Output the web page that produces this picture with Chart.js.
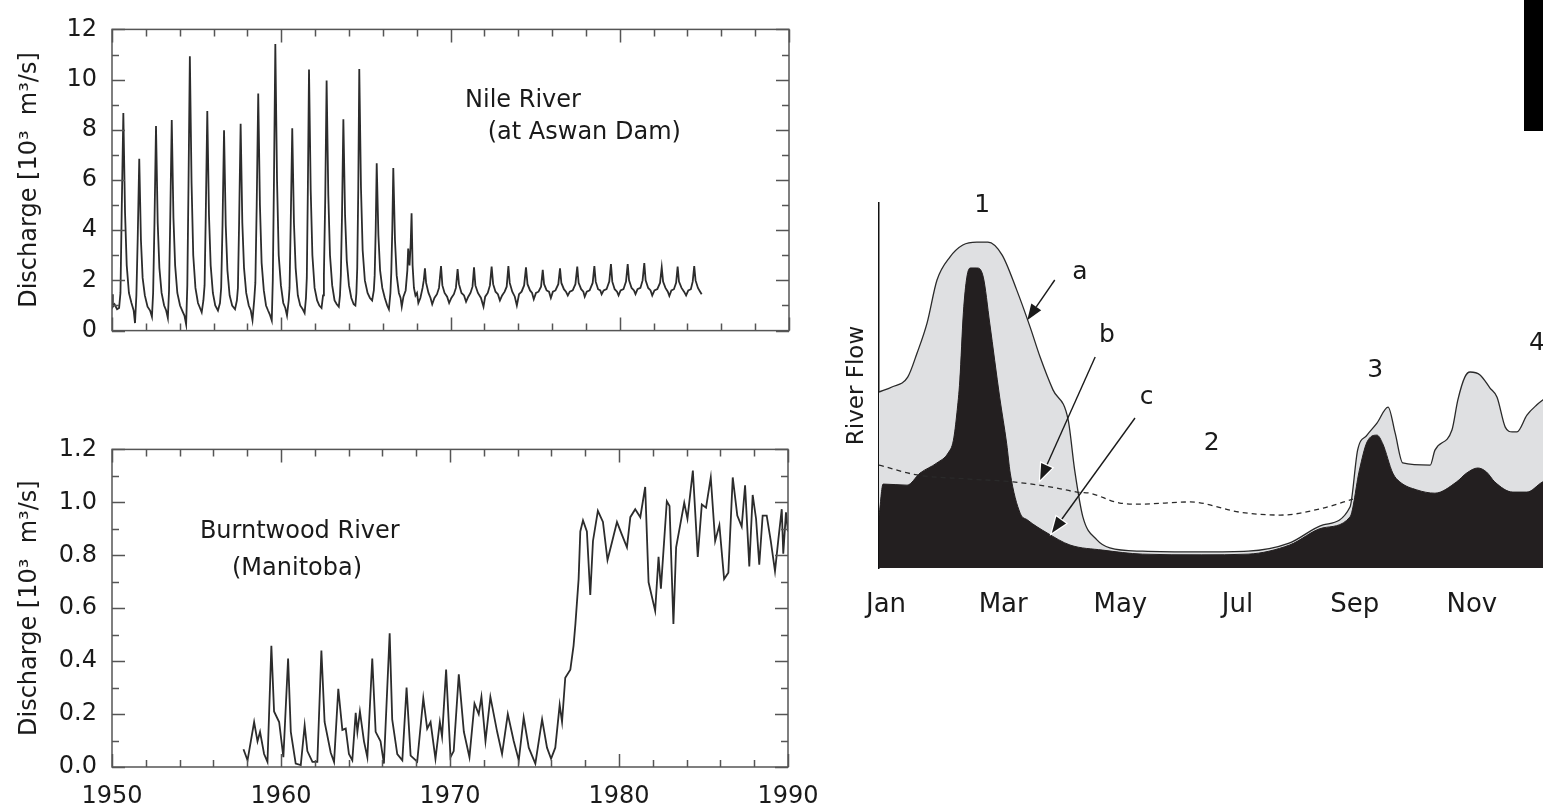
<!DOCTYPE html>
<html><head><meta charset="utf-8">
<script src="https://cdn.jsdelivr.net/npm/chart.js@4.4.1/dist/chart.umd.min.js"></script>
<style>
html,body{margin:0;padding:0;background:#fff;overflow:hidden;}
#wrap{position:relative;width:1543px;height:809px;overflow:hidden;background:#fff;}
canvas{position:absolute;}
#c1{left:0;top:0;} #c2{left:0;top:420px;} #c3{left:830px;top:180px;}
#blk{position:absolute;left:1524px;top:0;width:19px;height:131px;background:#000;}
</style></head><body>
<div id="wrap">
<canvas id="c1" width="800" height="360"></canvas>
<canvas id="c2" width="840" height="389"></canvas>
<canvas id="c3" width="760" height="450"></canvas>
<div id="blk"></div>
</div>
<script>
// ---------- DATA ----------
const yearTickStep = 2;
// Nile River at Aswan Dam: [decimal year, discharge 10^3 m3/s]
const nileSeries = [
[1950.00,1.45],[1950.05,0.95],[1950.15,1.05],[1950.30,0.85],[1950.42,0.90],[1950.50,1.50],[1950.57,4.60],[1950.67,8.67],[1950.77,4.70],[1950.87,2.60],[1951.00,1.50],[1951.15,1.10],[1951.28,0.80],[1951.36,0.30],
[1951.44,1.40],[1951.52,3.70],[1951.61,6.85],[1951.71,3.60],[1951.81,2.10],[1951.94,1.40],[1952.10,0.95],[1952.25,0.80],[1952.36,0.55],
[1952.43,1.50],[1952.51,4.30],[1952.60,8.15],[1952.70,4.30],[1952.80,2.50],[1952.93,1.50],[1953.08,1.00],[1953.20,0.80],[1953.30,0.50],
[1953.37,1.60],[1953.44,4.40],[1953.53,8.39],[1953.63,4.50],[1953.73,2.60],[1953.86,1.50],[1954.02,1.00],[1954.18,0.75],[1954.28,0.60],[1954.38,0.25],
[1954.45,1.80],[1954.52,5.80],[1954.60,10.93],[1954.70,5.90],[1954.80,3.00],[1954.93,1.70],[1955.08,1.10],[1955.20,0.90],[1955.30,0.73],[1955.40,1.20],
[1955.47,1.80],[1955.54,4.60],[1955.63,8.75],[1955.73,4.60],[1955.83,2.60],[1955.96,1.50],[1956.10,1.00],[1956.26,0.80],[1956.38,1.10],
[1956.45,1.70],[1956.53,4.20],[1956.62,7.98],[1956.72,4.20],[1956.82,2.40],[1956.95,1.40],[1957.10,1.00],[1957.27,0.85],[1957.38,1.20],
[1957.44,1.70],[1957.51,4.30],[1957.60,8.24],[1957.70,4.30],[1957.80,2.50],[1957.93,1.50],[1958.08,1.00],[1958.20,0.80],[1958.30,0.42],[1958.40,1.20],
[1958.47,1.90],[1958.55,5.00],[1958.64,9.45],[1958.74,5.00],[1958.84,2.70],[1958.97,1.60],[1959.10,1.00],[1959.22,0.80],[1959.32,0.65],[1959.44,0.40],
[1959.50,2.00],[1959.57,6.00],[1959.65,11.42],[1959.75,6.00],[1959.85,3.00],[1959.98,1.80],[1960.12,1.10],[1960.24,0.90],[1960.34,0.60],[1960.44,1.20],
[1960.49,1.70],[1960.56,4.30],[1960.65,8.06],[1960.75,4.30],[1960.85,2.50],[1960.98,1.40],[1961.12,1.00],[1961.27,0.85],[1961.38,0.70],[1961.46,1.30],
[1961.51,2.10],[1961.57,5.50],[1961.64,10.40],[1961.74,5.60],[1961.84,3.00],[1961.97,1.70],[1962.12,1.20],[1962.25,1.00],[1962.38,0.90],[1962.47,1.40],
[1962.52,2.20],[1962.60,5.30],[1962.68,9.96],[1962.78,5.40],[1962.88,3.00],[1963.01,1.80],[1963.15,1.20],[1963.28,1.05],[1963.40,0.95],[1963.47,1.40],
[1963.52,2.20],[1963.59,4.60],[1963.67,8.42],[1963.77,4.60],[1963.87,2.80],[1964.00,1.80],[1964.14,1.30],[1964.28,1.05],[1964.38,1.00],[1964.44,1.50],
[1964.49,2.50],[1964.55,5.60],[1964.61,10.42],[1964.71,5.70],[1964.81,3.20],[1964.94,2.00],[1965.10,1.50],[1965.24,1.30],[1965.37,1.20],[1965.47,1.60],
[1965.52,2.20],[1965.58,4.00],[1965.64,6.67],[1965.74,3.80],[1965.84,2.40],[1965.97,1.70],[1966.12,1.30],[1966.26,1.00],[1966.36,0.85],[1966.45,1.50],
[1966.50,2.30],[1966.56,4.00],[1966.62,6.48],[1966.72,3.60],[1966.82,2.20],[1966.95,1.50],[1967.05,1.30],[1967.12,0.95],[1967.22,1.35],[1967.35,1.60],
[1967.45,2.40],[1967.50,3.27],[1967.58,2.60],[1967.65,3.50],[1967.70,4.67],[1967.76,2.60],[1967.84,1.70],[1967.93,1.40],[1968.02,1.50],[1968.10,1.10],[1968.22,1.30],
[1968.35,1.70],[1968.42,2.00],[1968.49,2.48],[1968.56,1.90],[1968.70,1.50],[1968.82,1.30],[1968.92,1.05],
[1969.05,1.30],[1969.20,1.45],[1969.32,1.70],[1969.44,2.57],[1969.52,1.80],[1969.65,1.50],[1969.80,1.35],[1969.92,1.10],
[1970.05,1.30],[1970.20,1.45],[1970.32,1.70],[1970.42,2.45],[1970.50,1.85],[1970.65,1.50],[1970.80,1.40],[1970.92,1.15],
[1971.05,1.35],[1971.18,1.50],[1971.30,1.75],[1971.39,2.52],[1971.47,1.80],[1971.62,1.50],[1971.80,1.30],[1971.95,0.95],
[1972.05,1.35],[1972.20,1.50],[1972.33,1.80],[1972.43,2.55],[1972.52,1.85],[1972.66,1.55],[1972.80,1.45],[1972.92,1.20],
[1973.05,1.40],[1973.20,1.55],[1973.32,1.75],[1973.42,2.57],[1973.50,1.90],[1973.65,1.55],[1973.80,1.35],[1973.92,1.00],
[1974.05,1.45],[1974.20,1.55],[1974.35,1.80],[1974.46,2.52],[1974.55,1.85],[1974.70,1.60],[1974.82,1.50],[1974.92,1.25],
[1975.05,1.50],[1975.20,1.55],[1975.35,1.75],[1975.45,2.42],[1975.53,1.85],[1975.68,1.60],[1975.82,1.55],[1975.93,1.30],
[1976.05,1.55],[1976.20,1.60],[1976.37,1.85],[1976.47,2.48],[1976.55,1.90],[1976.70,1.65],[1976.82,1.55],[1976.93,1.40],
[1977.05,1.55],[1977.22,1.60],[1977.38,1.85],[1977.49,2.55],[1977.57,1.90],[1977.72,1.65],[1977.85,1.55],[1977.93,1.35],
[1978.05,1.55],[1978.22,1.60],[1978.40,1.90],[1978.50,2.57],[1978.58,1.95],[1978.72,1.65],[1978.85,1.60],[1978.93,1.45],
[1979.05,1.60],[1979.22,1.65],[1979.38,1.95],[1979.48,2.65],[1979.56,1.95],[1979.70,1.65],[1979.84,1.55],[1979.93,1.40],
[1980.05,1.60],[1980.22,1.65],[1980.37,1.95],[1980.47,2.65],[1980.55,2.00],[1980.70,1.70],[1980.84,1.60],[1980.93,1.45],
[1981.05,1.65],[1981.22,1.70],[1981.35,2.00],[1981.45,2.69],[1981.53,2.00],[1981.68,1.70],[1981.82,1.60],[1981.92,1.40],
[1982.05,1.60],[1982.22,1.65],[1982.38,1.90],[1982.48,2.52],[1982.56,1.95],[1982.70,1.70],[1982.84,1.55],[1982.93,1.38],
[1983.05,1.60],[1983.20,1.65],[1983.33,1.90],[1983.42,2.55],[1983.50,1.95],[1983.65,1.70],[1983.80,1.55],[1983.92,1.40],
[1984.05,1.60],[1984.20,1.65],[1984.31,1.95],[1984.40,2.57],[1984.48,2.00],[1984.62,1.70],[1984.75,1.55],[1984.84,1.45]];

// Burntwood River (Manitoba): [decimal year, discharge 10^3 m3/s]
const burntSeries = [
[1957.78,0.067],[1958.02,0.025],[1958.41,0.170],[1958.61,0.097],[1958.76,0.133],[1959.00,0.049],[1959.20,0.019],[1959.43,0.458],[1959.59,0.210],[1959.89,0.170],
[1960.14,0.037],[1960.42,0.410],[1960.58,0.133],[1960.87,0.013],[1961.17,0.007],[1961.40,0.157],[1961.56,0.060],[1961.86,0.019],[1962.15,0.019],[1962.39,0.440],
[1962.58,0.170],[1962.94,0.055],[1963.14,0.019],[1963.39,0.295],[1963.63,0.140],[1963.83,0.145],[1964.02,0.049],[1964.22,0.025],[1964.42,0.205],[1964.52,0.133],
[1964.67,0.210],[1964.91,0.097],[1965.11,0.037],[1965.40,0.410],[1965.60,0.133],[1965.89,0.097],[1966.09,0.013],[1966.43,0.505],[1966.58,0.180],[1966.88,0.049],
[1967.18,0.025],[1967.43,0.300],[1967.67,0.043],[1968.06,0.020],[1968.42,0.260],[1968.65,0.145],[1968.85,0.170],[1969.14,0.031],[1969.40,0.170],[1969.53,0.115],
[1969.77,0.368],[1970.03,0.037],[1970.22,0.060],[1970.52,0.350],[1970.82,0.133],[1971.15,0.037],[1971.45,0.240],[1971.70,0.200],[1971.86,0.265],[1972.10,0.098],
[1972.39,0.265],[1972.79,0.133],[1973.08,0.049],[1973.42,0.200],[1973.77,0.098],[1974.07,0.025],[1974.36,0.187],[1974.66,0.073],[1975.05,0.013],[1975.45,0.180],
[1975.74,0.073],[1975.98,0.031],[1976.23,0.073],[1976.49,0.235],[1976.63,0.170],[1976.82,0.337],[1977.12,0.368],[1977.31,0.458],[1977.42,0.540],[1977.61,0.710],
[1977.71,0.890],[1977.87,0.932],[1978.10,0.890],[1978.30,0.650],[1978.46,0.854],[1978.75,0.968],[1979.05,0.926],[1979.32,0.782],[1979.58,0.848],[1979.88,0.926],
[1980.17,0.878],[1980.47,0.830],[1980.67,0.944],[1980.96,0.974],[1981.26,0.944],[1981.55,1.058],[1981.75,0.698],[1982.14,0.590],[1982.34,0.794],[1982.48,0.674],
[1982.83,1.004],[1982.99,0.986],[1983.22,0.540],[1983.38,0.830],[1983.62,0.914],[1983.86,0.998],[1984.05,0.938],[1984.37,1.120],[1984.66,0.794],[1984.90,0.992],
[1985.15,0.980],[1985.43,1.094],[1985.69,0.854],[1985.94,0.914],[1986.22,0.710],[1986.47,0.734],[1986.73,1.094],[1987.00,0.950],[1987.26,0.908],[1987.46,1.064],
[1987.71,0.758],[1987.91,1.028],[1988.11,0.938],[1988.30,0.764],[1988.50,0.950],[1988.74,0.950],[1988.98,0.854],[1989.23,0.740],[1989.43,0.860],[1989.63,0.974],
[1989.72,0.806],[1989.88,0.962],[1990.00,0.890]];

// River flow schematic (months since Jan 1, relative flow)
const monthLabels = ['Jan','Mar','May','Jul','Sep','Nov'];
const naturalMonth = [0,0.22,0.49,0.65,0.82,0.99,1.21,1.43,1.67,1.86,2.10,2.35,2.58,2.75,2.97,3.23,3.34,3.48,3.72,3.94,4.5,5.5,6.3,7.0,7.58,8.04,8.17,8.33,8.5,8.69,8.81,8.94,9.41,9.49,9.78,9.88,10.0,10.09,10.26,10.43,10.55,10.69,10.81,10.89,11.06,11.23,11.33,11.6,12.0];
const naturalFlow  = [48.2,49.6,52.3,58.9,67.1,78.9,85.2,88.5,89.3,89.3,85.8,76.2,66.0,57.8,48.8,40.5,26.8,14.0,7.7,5.5,4.6,4.4,4.6,6.8,11.8,16.7,32.3,36.4,39.7,44.1,37.0,28.8,28.2,32.3,37.8,46.0,52.3,53.7,52.9,49.3,46.8,38.6,37.3,37.3,41.9,44.7,46.0,49.0,50.0];
const regulatedMonth = [0,0.07,0.48,0.70,0.99,1.18,1.27,1.33,1.38,1.44,1.50,1.56,1.67,1.78,1.89,2.06,2.18,2.24,2.41,2.53,2.87,3.26,3.82,4.5,5.5,6.3,7.01,7.58,8.04,8.2,8.33,8.5,8.6,8.77,8.89,9.18,9.49,9.86,10.03,10.22,10.37,10.51,10.82,11.06,11.33,11.6,12.0];
const regulatedFlow  = [14,23,22.7,26,28.8,31.5,35,42.5,51.5,69.9,79.7,82.2,82.2,79.7,67.1,46.8,34,26,15,13.2,9.6,6.3,4.9,3.8,3.6,3.8,6.3,11,14,26.8,34.5,36.4,34,26,23.6,21.4,20.5,23.6,26,27.4,26.3,23.6,20.8,20.8,23.6,25,25];
const meanMonth = [0,0.65,1.5,2.29,3.0,3.38,3.6,4.11,4.46,5.31,6.16,6.85,7.58,8.09];
const meanFlow  = [28.2,25.5,24.4,23.6,22.0,20.8,20.5,17.8,17.5,18.1,15.3,14.5,16.4,18.9];

// ---------- HELPERS ----------
const FONT = 'DejaVu Sans';
const INK = '#1a1a1a';
const pts = (xs, ys) => xs.map((x, i) => ({x, y: ys[i]}));
const pairPts = arr => arr.map(p => ({x: p[0], y: p[1]}));

function frameTicks(isMajorX, isMajorY) {
  return {
    id: 'frameTicks',
    afterDraw(chart) {
      const {ctx, chartArea: a, scales: {x, y}} = chart;
      ctx.save();
      ctx.strokeStyle = '#555';
      ctx.lineWidth = 1.5;
      ctx.strokeRect(a.left, a.top, a.right - a.left, a.bottom - a.top);
      ctx.beginPath();
      x.ticks.forEach(t => {
        const p = Math.round(x.getPixelForValue(t.value)) + 0.5;
        const L = isMajorX(t.value) ? 13 : 7;
        ctx.moveTo(p, a.bottom); ctx.lineTo(p, a.bottom - L);
        ctx.moveTo(p, a.top); ctx.lineTo(p, a.top + L);
      });
      y.ticks.forEach(t => {
        const p = Math.round(y.getPixelForValue(t.value)) + 0.5;
        const L = isMajorY(t.value) ? 13 : 7;
        ctx.moveTo(a.left, p); ctx.lineTo(a.left + L, p);
        ctx.moveTo(a.right, p); ctx.lineTo(a.right - L, p);
      });
      ctx.stroke();
      ctx.restore();
    }
  };
}

function notes(items, arrows, size) {
  return {
    id: 'notes',
    afterDatasetsDraw(chart) {
      const {ctx, scales: {x, y}} = chart;
      ctx.save();
      (arrows || []).forEach(ar => {
        const x1 = x.getPixelForValue(ar.from[0]), y1 = y.getPixelForValue(ar.from[1]);
        const x2 = x.getPixelForValue(ar.to[0]), y2 = y.getPixelForValue(ar.to[1]);
        const ang = Math.atan2(y2 - y1, x2 - x1);
        const len = 16, w = 6;
        const bx = x2 - len * Math.cos(ang), by = y2 - len * Math.sin(ang);
        ctx.strokeStyle = '#1a1a1a'; ctx.lineWidth = 1.4;
        ctx.beginPath(); ctx.moveTo(x1, y1); ctx.lineTo(bx, by); ctx.stroke();
        ctx.beginPath();
        ctx.moveTo(x2, y2);
        ctx.lineTo(bx + w * Math.sin(ang), by - w * Math.cos(ang));
        ctx.lineTo(bx - w * Math.sin(ang), by + w * Math.cos(ang));
        ctx.closePath();
        if (ar.halo) { ctx.strokeStyle = '#fff'; ctx.lineWidth = 2.5; ctx.stroke(); }
        ctx.fillStyle = '#1a1a1a'; ctx.fill();
      });
      ctx.font = size + 'px "' + FONT + '"';
      ctx.fillStyle = INK;
      items.forEach(it => {
        ctx.textAlign = it.align || 'left';
        ctx.textBaseline = it.base || 'alphabetic';
        ctx.fillText(it.text, x.getPixelForValue(it.x), y.getPixelForValue(it.y));
      });
      ctx.restore();
    }
  };
}

const common = {
  responsive: false, animation: false, devicePixelRatio: 1, events: [],
  plugins: {legend: {display: false}, tooltip: {enabled: false}}
};
const tickFont = {family: FONT, size: 24};

function leftChart(canvasId, series, yMax, yStep, yFmt, isMajorY, showX, pad, xH, annot) {
  return new Chart(document.getElementById(canvasId), {
    type: 'line',
    data: {datasets: [{data: pairPts(series), borderColor: '#2c2c2c', borderWidth: 1.8, pointRadius: 0, tension: 0, fill: false}]},
    options: Object.assign({}, common, {
      layout: {padding: pad},
      scales: {
        x: {type: 'linear', min: 1950, max: 1990,
            ticks: {stepSize: yearTickStep, autoSkip: false, maxRotation: 0, display: showX, padding: 15,
                    font: tickFont, color: INK, callback: v => (v % 10 === 0 ? String(v) : '')},
            grid: {display: false, drawTicks: false}, border: {display: false},
            afterFit: s => { s.height = xH; }},
        y: {type: 'linear', min: 0, max: yMax,
            ticks: {stepSize: yStep, autoSkip: false, padding: 15, font: tickFont, color: INK, callback: yFmt},
            grid: {display: false, drawTicks: false}, border: {display: false},
            title: {display: true, text: 'Discharge [10³  m³/s]', font: {family: FONT, size: 24}, color: INK, padding: {top: 15, bottom: 0}},
            afterFit: s => { s.width = 112; }}
      }
    }),
    plugins: [frameTicks(v => Math.round(v) % 10 === 0, isMajorY), notes(annot, null, 24)]
  });
}

// Nile
leftChart('c1', nileSeries, 12, 1,
  v => (Math.round(v) % 2 === 0 ? String(Math.round(v)) : ''),
  v => Math.round(v) % 2 === 0, false, {left: 0, top: 20, right: 11, bottom: 0}, 10,
  [{text: 'Nile River', x: 1970.86, y: 8.91}, {text: '(at Aswan Dam)', x: 1972.2, y: 7.64}]);

// Burntwood
leftChart('c2', burntSeries, 1.2, 0.1,
  v => { const k = Math.round(v * 10); return k % 2 === 0 ? (k / 10).toFixed(1) : ''; },
  v => Math.round(v * 10) % 2 === 0, true, {left: 0, top: 14, right: 52, bottom: 0}, 42,
  [{text: 'Burntwood River', x: 1955.2, y: 0.865}, {text: '(Manitoba)', x: 1957.1, y: 0.724}]);

// River flow schematic
new Chart(document.getElementById('c3'), {
  type: 'line',
  data: {datasets: [
    {data: pts(meanMonth, meanFlow), borderColor: '#2a2a2a', borderWidth: 1.3, borderDash: [5, 4], pointRadius: 0,
     cubicInterpolationMode: 'monotone', fill: false, order: 1},
    {data: pts(regulatedMonth, regulatedFlow), borderColor: '#231f20', backgroundColor: '#231f20', borderWidth: 1,
     pointRadius: 0, cubicInterpolationMode: 'monotone', fill: 'origin', order: 2},
    {data: pts(naturalMonth, naturalFlow), borderColor: '#2a2a2a', backgroundColor: '#dfe0e2', borderWidth: 1.3,
     pointRadius: 0, cubicInterpolationMode: 'monotone', fill: 'origin', order: 3}
  ]},
  options: Object.assign({}, common, {
    layout: {padding: {left: 0, top: 23, right: 8, bottom: 0}},
    scales: {
      x: {type: 'linear', min: 0, max: 12,
          afterBuildTicks: s => { s.ticks = monthLabels.map((_, i) => ({value: i * 2})); },
          ticks: {autoSkip: false, maxRotation: 0, padding: 22, labelOffset: 7, font: {family: FONT, size: 26}, color: INK,
                  callback: v => monthLabels[Math.round(v / 2)] || ''},
          grid: {display: false, drawTicks: false}, border: {display: false},
          afterFit: s => { s.height = 62; }},
      y: {type: 'linear', min: 0, max: 100,
          ticks: {display: false},
          grid: {display: false, drawTicks: false}, border: {display: true, color: '#111', width: 1.5},
          title: {display: true, text: 'River Flow', font: {family: FONT, size: 23}, color: INK, padding: {top: 13, bottom: 0}},
          afterFit: s => { s.width = 49; }}
    }
  }),
  plugins: [notes(
    [{text: '1', x: 1.76, y: 99.2, align: 'center', base: 'middle'},
     {text: 'a', x: 3.43, y: 81, align: 'center', base: 'middle'},
     {text: 'b', x: 3.89, y: 63.8, align: 'center', base: 'middle'},
     {text: 'c', x: 4.57, y: 46.8, align: 'center', base: 'middle'},
     {text: '2', x: 5.68, y: 34.2, align: 'center', base: 'middle'},
     {text: '3', x: 8.47, y: 54.2, align: 'center', base: 'middle'},
     {text: '4', x: 11.23, y: 61.6, align: 'center', base: 'middle'}],
    [{from: [3.00, 78.9], to: [2.53, 67.9], halo: false},
     {from: [3.69, 57.8], to: [2.75, 24.1], halo: true},
     {from: [4.37, 41.1], to: [2.95, 9.6], halo: true}], 25)]
});
</script>
</body></html>
